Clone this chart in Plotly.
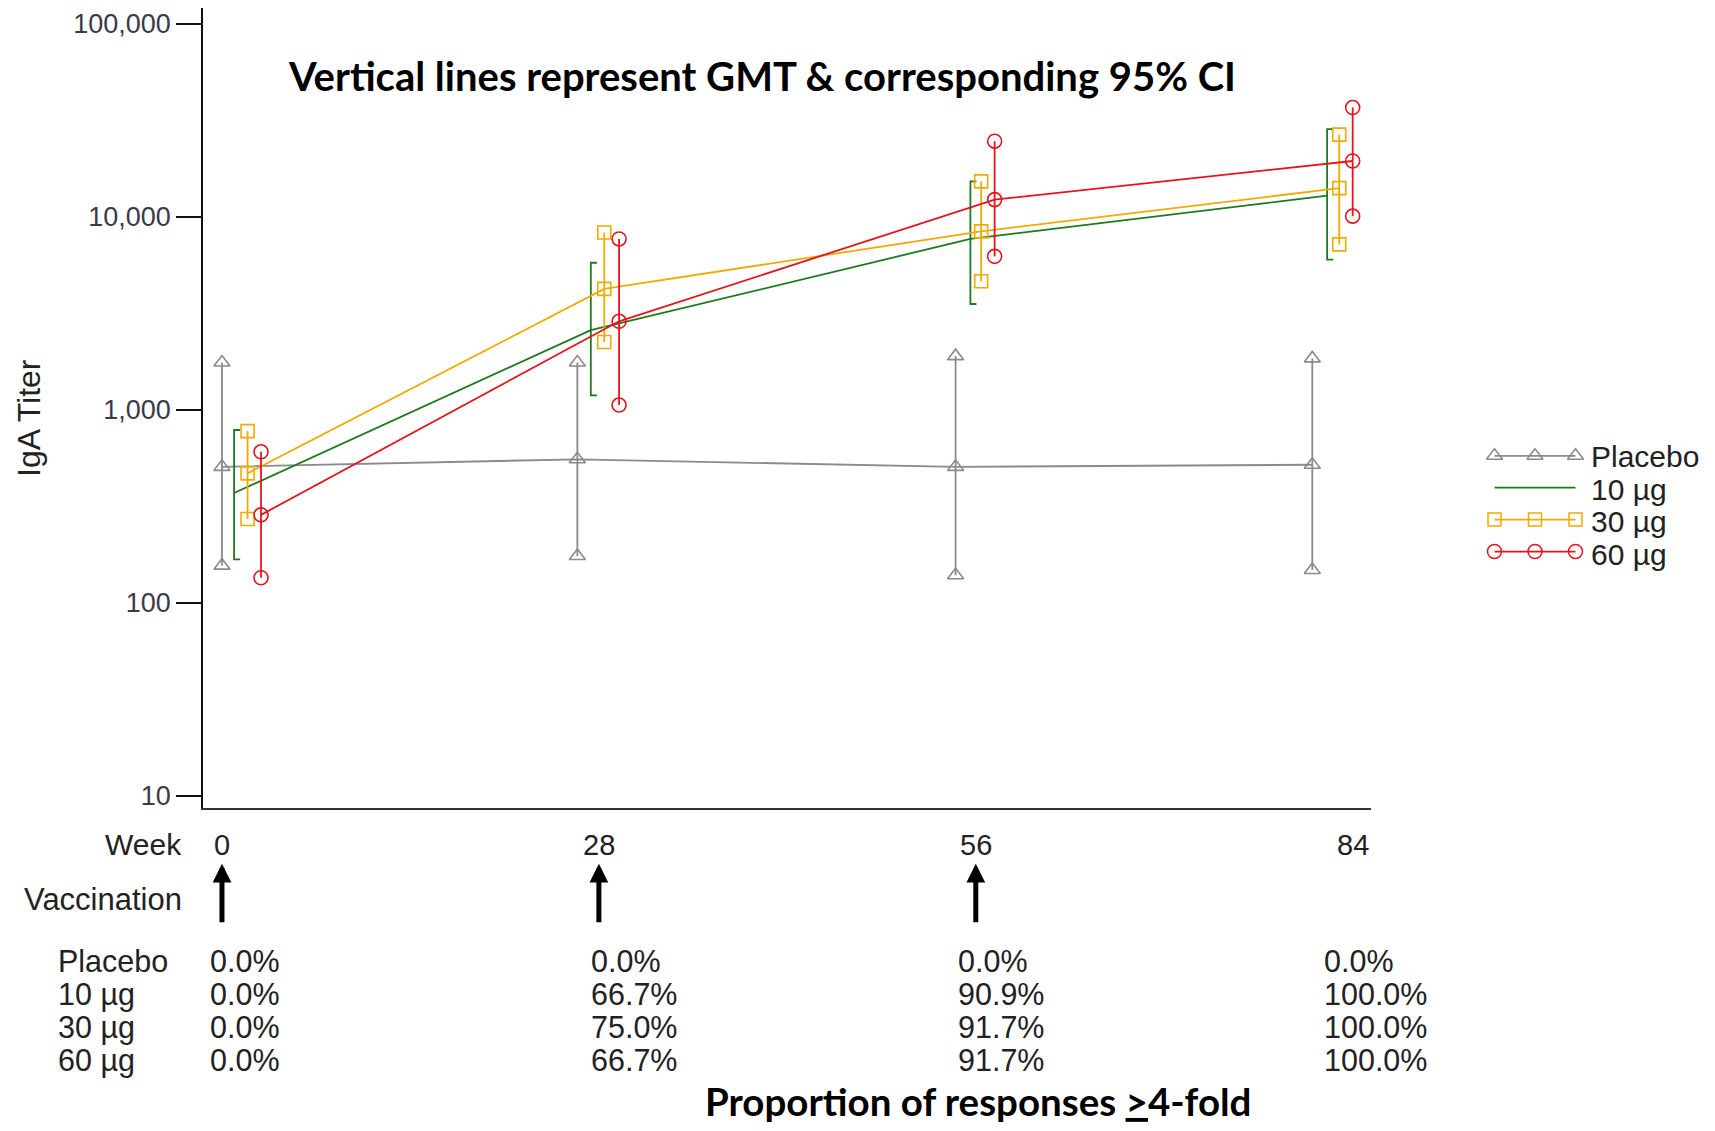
import plotly.graph_objects as go

# ---- data -------------------------------------------------------------
groups = ["Placebo", "10 µg", "30 µg", "60 µg"]
weeks = [0, 28, 56, 84]

# plotted visit position (study week) for each group, dodged around the visit
x_placebo = [0.0, 26.4, 54.5, 81.0]
x_10 = [0.9, 27.4, 55.6, 82.1]
x_30 = [1.9, 28.4, 56.4, 83.0]
x_60 = [2.9, 29.5, 57.4, 84.0]

# geometric mean titers with 95% CI
gmt_placebo = [507, 555, 507, 520]
lo_placebo = [156, 175, 139, 148]
hi_placebo = [1760, 1760, 1900, 1850]

gmt_10 = [371, 2590, 7690, 12900]
lo_10 = [168, 1190, 3540, 6010]
hi_10 = [787, 5790, 15300, 28500]

gmt_30 = [469, 4240, 8420, 14100]
lo_30 = [272, 2250, 4640, 7210]
hi_30 = [777, 8310, 15300, 26700]

gmt_60 = [286, 2880, 12300, 19500]
lo_60 = [135, 1060, 6250, 10100]
hi_60 = [607, 7690, 24700, 36900]

# proportion of >=4-fold responders per visit
resp_placebo = ["0.0%", "0.0%", "0.0%", "0.0%"]
resp_10 = ["0.0%", "66.7%", "90.9%", "100.0%"]
resp_30 = ["0.0%", "75.0%", "91.7%", "100.0%"]
resp_60 = ["0.0%", "66.7%", "91.7%", "100.0%"]

y_tickvals = [10, 100, 1000, 10000, 100000]
y_ticktext = ["10", "100", "1,000", "10,000", "100,000"]
week_labels = ["0", "28", "56", "84"]
vaccination_weeks = [0, 28, 56]

# ---- styling ----------------------------------------------------------
W, H = 1715, 1131
GRAY = "#8a8a8a"
GREEN = "#1f7a1f"
ORANGE = "#f2a900"
RED = "#e5141c"
SANS = "Liberation Sans, Arial, sans-serif"
BOLD = "Lato, Liberation Sans, sans-serif"
TEXT = "#222222"


def px(x):
    return x / W


def py(y):
    return 1 - y / H


fig = go.Figure()

series = [
    ("Placebo", x_placebo, gmt_placebo, lo_placebo, hi_placebo, GRAY, "triangle-up-open", 14),
    ("10 µg", x_10, gmt_10, lo_10, hi_10, GREEN, None, 0),
    ("30 µg", x_30, gmt_30, lo_30, hi_30, ORANGE, "square-open", 13),
    ("60 µg", x_60, gmt_60, lo_60, hi_60, RED, "circle-open", 14),
]

cap = 0.45  # bracket cap length in weeks for the 10 µg series

for name, xs, gmt, lo, hi, color, symbol, msize in series:
    # line through the GMTs
    fig.add_trace(go.Scatter(
        x=xs, y=gmt, mode="lines", line=dict(color=color, width=1.8),
        showlegend=False, hoverinfo="skip", xaxis="x", yaxis="y"))
    for i in range(len(xs)):
        if symbol is None:
            fig.add_trace(go.Scatter(
                x=[xs[i] + cap, xs[i], xs[i], xs[i] + cap],
                y=[hi[i], hi[i], lo[i], lo[i]],
                mode="lines", line=dict(color=color, width=1.8),
                showlegend=False, hoverinfo="skip"))
        else:
            fig.add_trace(go.Scatter(
                x=[xs[i]] * 3, y=[lo[i], gmt[i], hi[i]],
                mode="lines+markers", line=dict(color=color, width=1.8),
                marker=dict(symbol=symbol, size=msize, color=color,
                            line=dict(color=color, width=1.6)),
                showlegend=False, hoverinfo="skip"))

# ---- custom legend (three markers per sample line) ---------------------
legend_text_y = [458, 491, 523, 556]
for row, (name, xs, gmt, lo, hi, color, symbol, msize) in enumerate(series):
    if symbol is None:
        fig.add_trace(go.Scatter(
            x=[0.05, 0.95], y=[row, row], mode="lines",
            line=dict(color=color, width=1.8), xaxis="x2", yaxis="y2",
            showlegend=False, hoverinfo="skip", cliponaxis=False))
    else:
        fig.add_trace(go.Scatter(
            x=[0.05, 0.5, 0.95], y=[row] * 3, mode="lines+markers",
            line=dict(color=color, width=1.8),
            marker=dict(symbol=symbol, size=msize, color=color,
                        line=dict(color=color, width=1.5)),
            xaxis="x2", yaxis="y2", showlegend=False, hoverinfo="skip",
            cliponaxis=False))
    fig.add_annotation(x=px(1589), y=py(legend_text_y[row]), xref="paper",
                       yref="paper", text=name, showarrow=False,
                       xanchor="left", yanchor="middle",
                       font=dict(family=SANS, size=30, color=TEXT))

annotations = []

# title inside plot
annotations.append(dict(
    x=px(762), y=py(76), xref="paper", yref="paper",
    text="<b>Vertical lines represent GMT &amp; corresponding 95% CI</b>",
    showarrow=False, xanchor="center", yanchor="middle",
    font=dict(family=BOLD, size=40, color="#000000")))

# y-axis title
annotations.append(dict(
    x=px(29), y=py(419), xref="paper", yref="paper", text="IgA Titer",
    textangle=-90, showarrow=False, xanchor="center", yanchor="middle",
    font=dict(family=SANS, size=32, color=TEXT)))

# week row
annotations.append(dict(
    x=px(184), y=py(847), xref="paper", yref="paper", text="Week",
    showarrow=False, xanchor="right", yanchor="middle",
    font=dict(family=SANS, size=30, color=TEXT)))
for wk, lab in zip(weeks, week_labels):
    annotations.append(dict(
        x=wk, y=py(847), xref="x", yref="paper", text=lab,
        showarrow=False, xanchor="center", yanchor="middle",
        font=dict(family=SANS, size=29, color=TEXT)))

# vaccination arrows
annotations.append(dict(
    x=px(184), y=py(902), xref="paper", yref="paper", text="Vaccination",
    showarrow=False, xanchor="right", yanchor="middle",
    font=dict(family=SANS, size=31, color=TEXT)))
for wk in vaccination_weeks:
    annotations.append(dict(
        x=wk, y=py(866), xref="x", yref="paper", text="",
        showarrow=True, ax=0, ay=60, axref="pixel", ayref="pixel",
        arrowhead=2, arrowsize=0.75, arrowwidth=5, arrowcolor="#000000"))

# responder table
row_y = [964, 997, 1030, 1063]
col_x = [208, 589, 956, 1322]
table = [resp_placebo, resp_10, resp_30, resp_60]
for r, (name, vals) in enumerate(zip(groups, table)):
    annotations.append(dict(
        x=px(56), y=py(row_y[r]), xref="paper", yref="paper", text=name,
        showarrow=False, xanchor="left", yanchor="middle",
        font=dict(family=SANS, size=30.5, color=TEXT)))
    for c, v in enumerate(vals):
        annotations.append(dict(
            x=px(col_x[c]), y=py(row_y[r]), xref="paper", yref="paper",
            text=v, showarrow=False, xanchor="left", yanchor="middle",
            font=dict(family=SANS, size=30.5, color=TEXT)))

annotations.append(dict(
    x=px(978), y=py(1104), xref="paper", yref="paper",
    text="<b>Proportion of responses <u>&gt;</u>4-fold</b>",
    showarrow=False, xanchor="center", yanchor="middle",
    font=dict(family=BOLD, size=38.5, color="#000000")))

for a in annotations:
    fig.add_annotation(**a)

fig.update_layout(
    width=W, height=H,
    margin=dict(l=0, r=0, t=0, b=0),
    paper_bgcolor="white", plot_bgcolor="white",
    showlegend=False,
    xaxis=dict(
        domain=[px(203), px(1371)], range=[-1.41, 85.36],
        showline=True, linecolor="#333333", linewidth=2,
        showgrid=False, zeroline=False, showticklabels=False, ticks=""),
    yaxis=dict(
        domain=[py(810), py(8)], type="log", range=[0.938, 5.083],
        tickvals=y_tickvals, ticktext=y_ticktext,
        ticks="outside", ticklen=25, tickwidth=1.5, tickcolor="#111111",
        showline=True, linecolor="#111111", linewidth=1.5,
        showgrid=False, zeroline=False,
        tickfont=dict(family=SANS, size=27, color="#3a3a48")),
    xaxis2=dict(domain=[px(1490), px(1580)], range=[0, 1], visible=False,
                anchor="y2"),
    yaxis2=dict(domain=[py(569), py(441)], range=[3.5, -0.5], visible=False,
                anchor="x2"),
)

fig.write_html("out.html")
